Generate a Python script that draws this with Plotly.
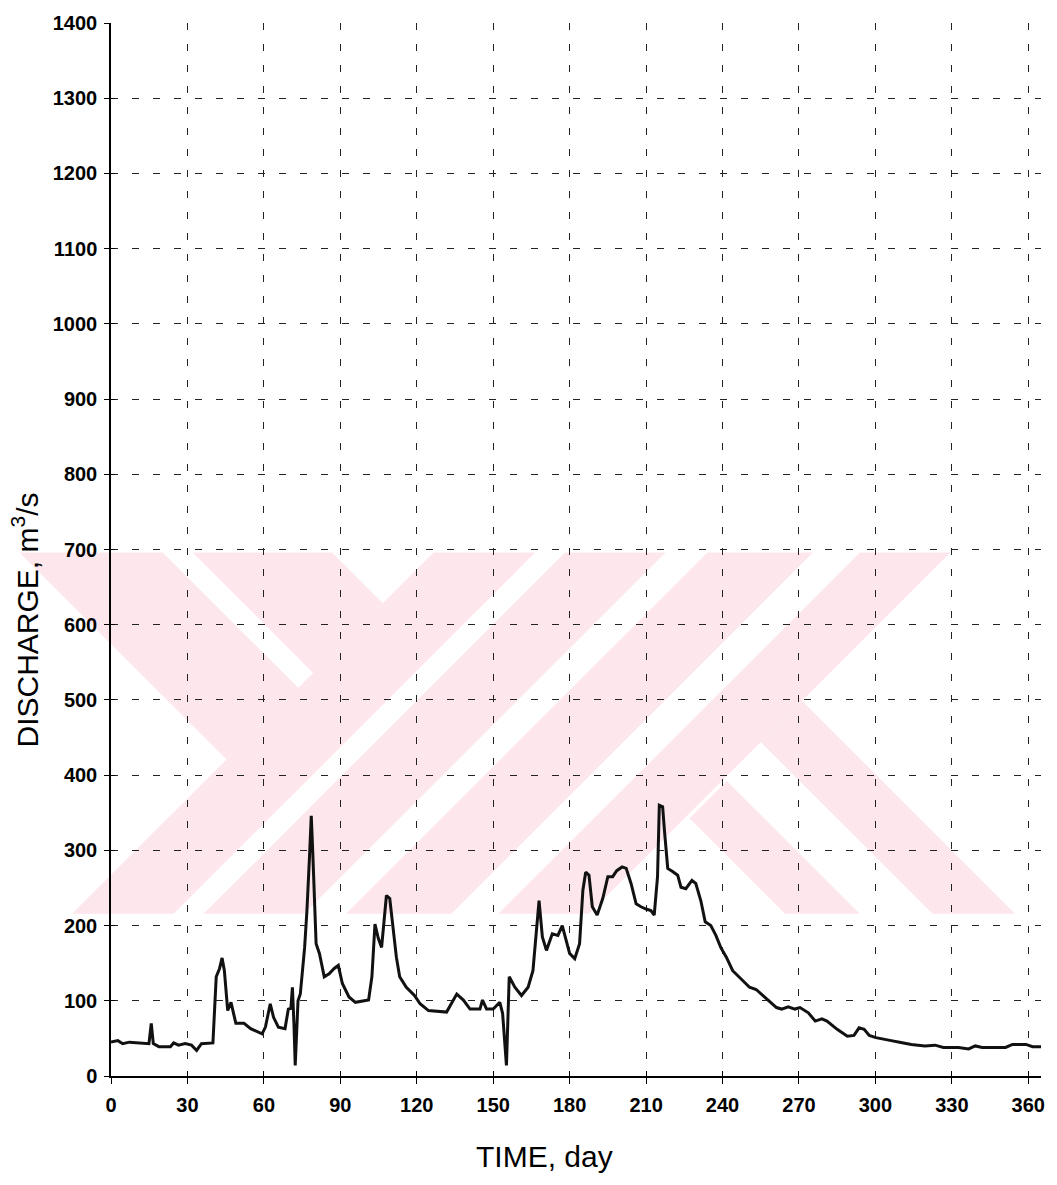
import plotly.graph_objects as go

# ---------------- data ----------------
days = [0, 2.7, 4.6, 7.2, 14.9, 15.8, 16.6, 18.8, 23.3, 24.6, 26.5, 29.1, 31.6, 33.6, 35.5,
        40, 41.3, 42.6, 43.6, 44.5, 45.8, 47.1, 49, 52.2, 54.8, 59.3, 60.6, 62.5, 63.8, 65.7,
        68.3, 69.6, 70.6, 71.2, 71.8, 72.3, 73.4, 74.3, 76, 76.9, 77.9, 78.6, 79.2, 79.9, 80.5,
        81.8, 83.7, 85.6, 87.6, 89.2, 90.8, 93.4, 95.9, 101.1, 102.4, 103.6, 104.9, 106.2, 107.3,
        108.1, 109.4, 110.7, 112, 113.3, 115.9, 119.1, 121.3, 124.6, 131.7, 135.7, 138.3, 140.9,
        144.8, 145.8, 147.4, 150, 152.6, 153.7, 155.2, 156.3, 158.5, 161.1, 163.7, 165.6, 167,
        168, 169.3, 170.9, 173.2, 175.4, 177.1, 178.4, 180, 182, 183.9, 185.2, 186.3, 187.6,
        188.9, 190.8, 193, 195, 196.9, 198.5, 200.6, 202.2, 204.1, 206.1, 208, 210, 211.9, 213.2,
        214.5, 215.2, 216.5, 217.2, 218.5, 220.4, 222.4, 223.7, 225.6, 228, 229.5, 231.5, 233.2,
        235.4, 237.4, 239.3, 241.5, 244, 247.3, 250.6, 253.2, 255.9, 258.5, 261.2, 263.2, 265.8,
        268.4, 270.4, 273.7, 276.4, 279, 281, 285, 289, 291.6, 293.6, 295.6, 297.6, 300.2, 302.8,
        306.2, 309.5, 314.1, 319.4, 323.4, 326.7, 332.6, 336.6, 339.2, 341.9, 351.1, 353.8,
        359.1, 361.7, 365]
discharge = [45, 47, 43, 45, 43, 70, 43, 39, 39, 44, 41, 43, 41, 34, 43,
             44, 132, 143, 157, 140, 87, 98, 70, 70, 63, 56, 65, 96, 78, 65,
             63, 89, 90, 118, 70, 14, 100, 109, 171, 220, 291, 346, 296, 225, 176,
             163, 132, 136, 143, 147, 123, 105, 98, 101, 132, 202, 183, 171, 216,
             240, 236, 198, 158, 132, 118, 107, 96, 87, 85, 109, 101, 89,
             89, 101, 89, 89, 98, 83, 14, 132, 118, 107, 118, 140, 198,
             233, 185, 167, 189, 187, 200, 185, 163, 156, 176, 247, 271, 267,
             225, 214, 236, 265, 265, 273, 278, 276, 256, 229, 225, 222, 220, 214,
             265, 360, 358, 327, 276, 272, 267, 251, 249, 260, 256, 233, 205,
             200, 187, 171, 158, 140, 129, 118, 115, 107, 100, 91, 89, 92,
             89, 91, 84, 73, 76, 73, 62, 53, 54, 64, 62, 54, 51, 49,
             47, 45, 42, 40, 41, 38, 38, 36, 40, 38, 38, 42,
             42, 39, 39]

x_ticks = [0, 30, 60, 90, 120, 150, 180, 210, 240, 270, 300, 330, 360]
y_ticks = [0, 100, 200, 300, 400, 500, 600, 700, 800, 900, 1000, 1100, 1200, 1300, 1400]
x_title = "TIME, day"
y_title = "DISCHARGE, m<sup>3</sup>/s"

# ---------------- layout geometry (pixels) ----------------
W, H = 1057, 1185
L, R, T, B = 111, 1045, 18, 1076   # plot area edges in px


def px_to_paper(X, Y):
    return (X - L) / (R - L), (B - Y) / (B - T)


# ---------------- faint pink watermark (background decoration) ----------------
def clip(poly, a, b, k):
    out = []
    n = len(poly)
    for i in range(n):
        p, q = poly[i], poly[(i + 1) % n]
        fp = a * p[0] + b * p[1] - k
        fq = a * q[0] + b * q[1] - k
        if fp <= 0:
            out.append(p)
        if (fp < 0 < fq) or (fq < 0 < fp):
            t = fp / (fp - fq)
            out.append((p[0] + t * (q[0] - p[0]), p[1] + t * (q[1] - p[1])))
    return out


def u_ge(m): return (-1, 1, -m)
def u_le(m): return (1, -1, m)
def c_ge(m): return (-1, -1, -m)
def c_le(m): return (1, 1, m)


WM_TOP, WM_BOT = 550, 913
pieces = [
    [u_ge(-531), u_le(-387), c_le(985)],
    [u_ge(-357), u_le(-217), c_le(985)],
    [c_ge(985), c_le(1087)],
    [c_ge(1117), c_le(1218)],
    [c_ge(1260), c_le(1366)],
    [c_ge(1413), c_le(1504)],
    [u_ge(23), u_le(106), c_ge(1504)],
    [u_ge(-125), u_le(-50), c_ge(1509)],
]
shapes = []
for cons in pieces:
    poly = [(0, WM_TOP), (W, WM_TOP), (W, WM_BOT), (0, WM_BOT)]
    for a, b, k in cons:
        poly = clip(poly, a, b, k)
        if not poly:
            break
    if len(poly) < 3:
        continue
    pts = [px_to_paper(X, Y) for X, Y in poly]
    path = "M " + " L ".join(f"{x:.5f},{y:.5f}" for x, y in pts) + " Z"
    shapes.append(dict(type="path", xref="paper", yref="paper", path=path,
                       fillcolor="#fde7ec", line=dict(width=0), layer="below"))

# ---------------- figure ----------------
fig = go.Figure()
fig.add_trace(go.Scatter(x=days, y=discharge, mode="lines",
                         line=dict(color="#111111", width=3),
                         showlegend=False, hoverinfo="x+y"))
# helper trace so the overlay axes (inner half of cross ticks) are drawn
fig.add_trace(go.Scatter(x=[days[0]], y=[discharge[0]], xaxis="x2", yaxis="y2",
                         mode="markers", marker=dict(opacity=0), showlegend=False,
                         hoverinfo="skip"))

tick_font = dict(family="Liberation Sans, Arial, sans-serif", size=20, color="black", weight="bold")
title_font = dict(family="Liberation Sans, Arial, sans-serif", size=30, color="black")
grid = dict(showgrid=True, gridcolor="#222222", gridwidth=1, griddash="7px,14px")

fig.update_layout(
    width=W, height=H,
    margin=dict(l=L, r=W - R, t=T, b=H - B, pad=0),
    paper_bgcolor="white", plot_bgcolor="rgba(0,0,0,0)",
    shapes=shapes,
    xaxis=dict(range=[0, 365], tickvals=x_ticks, ticks="outside", ticklen=6, tickwidth=1.2,
               tickcolor="black", showline=True, linecolor="black", linewidth=1.5,
               zeroline=False, tickfont=tick_font, ticklabelstandoff=4, **grid),
    yaxis=dict(range=[0, 1400], tickvals=y_ticks, ticks="outside", ticklen=5, tickwidth=1.2,
               tickcolor="black", showline=True, linecolor="black", linewidth=1.5,
               zeroline=False, tickfont=tick_font, ticklabelstandoff=3, **grid),
    xaxis2=dict(range=[0, 365], tickvals=x_ticks, overlaying="x", anchor="y2", side="bottom",
                ticks="inside", ticklen=5, tickwidth=1.2, tickcolor="black",
                showticklabels=False, showgrid=False, zeroline=False, showline=False),
    yaxis2=dict(range=[0, 1400], tickvals=y_ticks, overlaying="y", anchor="x2", side="left",
                ticks="inside", ticklen=4, tickwidth=1.2, tickcolor="black",
                showticklabels=False, showgrid=False, zeroline=False, showline=False),
    annotations=[
        dict(text=x_title, xref="paper", yref="paper",
             x=px_to_paper(546, 0)[0], y=px_to_paper(0, 1157)[1],
             xanchor="center", yanchor="middle", showarrow=False, font=title_font),
        dict(text=y_title, xref="paper", yref="paper", textangle=-90,
             x=px_to_paper(25, 0)[0], y=px_to_paper(0, 618)[1],
             xanchor="center", yanchor="middle", showarrow=False, font=title_font),
    ],
)

fig.write_html("out.html")
